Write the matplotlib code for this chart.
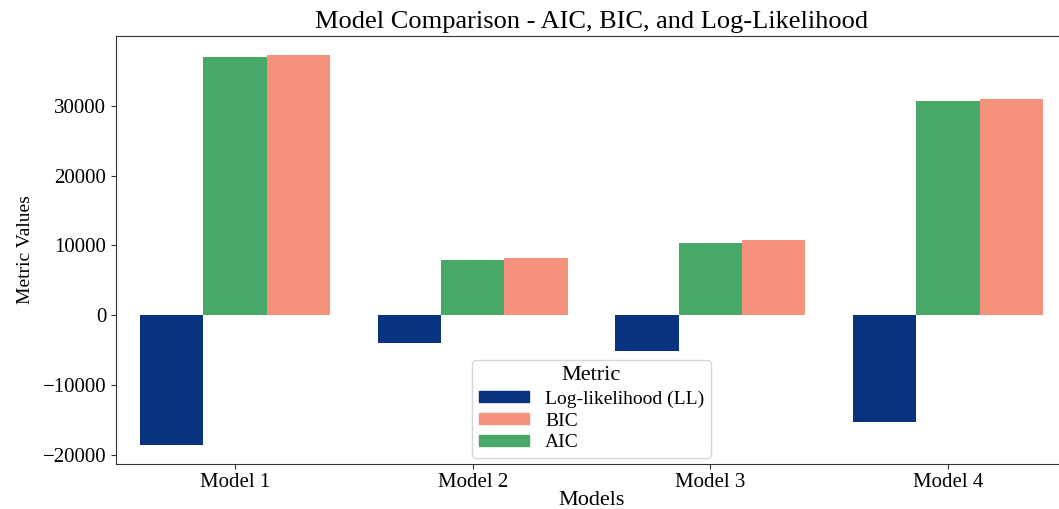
import matplotlib
matplotlib.use('Agg')
import matplotlib.pyplot as plt
import numpy as np
from matplotlib.patches import Patch

plt.rcParams['font.family'] = ['Liberation Serif', 'DejaVu Serif']

# data
models = ['Model 1', 'Model 2', 'Model 3', 'Model 4']
ll_vals = [-18500, -4000, -5150, -15300]
aic_vals = [37000, 7900, 10350, 30650]
bic_vals = [37200, 8150, 10750, 30950]

c_ll = '#08347f'
c_aic = '#48a867'
c_bic = '#f4927c'

fig = plt.figure(figsize=(10.59, 5.09), dpi=100)
ax = fig.add_axes([116/1059, 45/509, (1067-116)/1059, (464-36)/509])

x = np.arange(len(models))
w = 0.8/3
ax.bar(x - w, ll_vals, w, color=c_ll)
ax.bar(x, aic_vals, w, color=c_aic)
ax.bar(x + w, bic_vals, w, color=c_bic)

ax.set_xlim(-0.5, 3.5)
ax.set_xticks(x)
ax.set_xticklabels(models)
ax.set_yticks([-20000, -10000, 0, 10000, 20000, 30000])
ax.tick_params(labelsize=15, color='#333333')
ax.tick_params(axis='x', pad=3)
for s in ax.spines.values():
    s.set_color('#333333')

ax.set_title('Model Comparison - AIC, BIC, and Log-Likelihood', fontsize=19, pad=6)
ax.set_xlabel('Models', fontsize=16, labelpad=-1)
ax.set_ylabel('Metric Values', fontsize=14, labelpad=6)

handles = [Patch(color=c_ll, label='Log-likelihood (LL)'),
           Patch(color=c_bic, label='BIC'),
           Patch(color=c_aic, label='AIC')]
ax.legend(handles=handles, title='Metric', loc='lower center', fontsize=14,
          title_fontsize=16, handlelength=2.6, handleheight=0.5,
          labelspacing=0.25, borderaxespad=0.3, borderpad=0.35)

fig.savefig('out.png', dpi=100)
